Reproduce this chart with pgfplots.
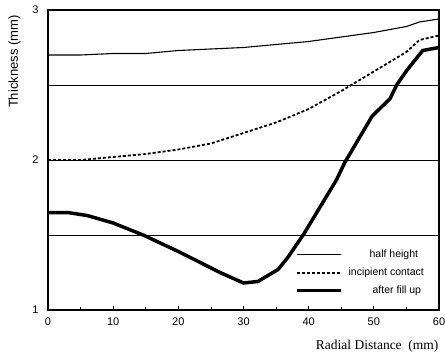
\documentclass[border=0pt]{standalone}
\usepackage{pgfplots}
\pgfplotsset{compat=1.18}
\usepackage{fontspec}
\setmainfont{Liberation Serif}
\setsansfont{Liberation Sans}
\begin{document}
\begin{tikzpicture}
\begin{axis}[
  scale only axis,
  width=391pt, height=300pt,
  xmin=0, xmax=60, ymin=1, ymax=3,
  xtick={0,10,...,60}, minor xtick={5,15,...,55},
  ytick={1,1.5,2,2.5,3}, yticklabels={1,,2,,3},
  ymajorgrids, grid style={black, line width=0.8pt},
  axis line style={line width=1.1pt},
  tick align=inside, tick pos=left,
  major tick length=4pt, minor tick length=3pt,
  tick style={black, line width=0.8pt},
  ticklabel style={font=\sffamily\fontsize{11}{12}\selectfont},
  xticklabel style={yshift=-4pt},
  yticklabel style={xshift=-6pt},
  /pgf/number format/assume math mode=true,
  xlabel={Radial Distance\ \ (mm)},
  ylabel={Thickness (mm)},
  xlabel style={font=\fontsize{13.5}{15}\selectfont, at={(rel axis cs:1,0)}, anchor=base east, yshift=-39pt, xshift=3pt},
  ylabel style={font=\sffamily\fontsize{13}{14}\selectfont, at={(rel axis cs:0,1)}, anchor=south east, yshift=24pt, xshift=-2pt},
  legend style={draw=none, fill=none, at={(rel axis cs:0.985,0.035)}, anchor=south east,
    font=\sffamily\fontsize{10.5}{12}\selectfont, row sep=5pt,
    nodes={inner xsep=6pt}},
  legend cell align=right,
  legend plot pos=left,
  legend image code/.code={\draw[#1] (0cm,0cm) -- (44pt,0cm);},
]
\addplot[black, line width=1.1pt] coordinates {
(0,2.70) (5,2.70) (10,2.71) (15,2.71) (20,2.73) (25,2.74) (30,2.75) (35,2.77) (40,2.79) (45,2.82) (50,2.85) (55,2.89) (57,2.92) (60,2.94)};
\addlegendentry{half height\ \ \ }
\addplot[black, line width=1.8pt, dash pattern=on 3pt off 2pt] coordinates {
(0,2.00) (5,2.00) (10,2.02) (15,2.04) (20,2.07) (25,2.11) (30,2.18) (35,2.25) (40,2.34) (45,2.46) (50,2.59) (55,2.72) (57,2.80) (60,2.83)};
\addlegendentry{incipient contact}
\addplot[black, line width=3.5pt] coordinates {
(0,1.65) (3,1.65) (6,1.63) (10,1.58) (14.6,1.50) (20,1.39) (26.4,1.25) (30,1.18) (32.2,1.19) (35.3,1.27) (36.8,1.35) (39.3,1.51) (44.3,1.87) (45.5,1.98) (49.7,2.29) (52.5,2.41) (53.5,2.50) (55.1,2.60) (57.5,2.73) (60,2.75)};
\addlegendentry{after fill up\ \ }
\end{axis}
\pgfresetboundingbox
\path (current axis.south west) ++(-48pt,-48pt) coordinate (a);
\path (current axis.north east) ++(6pt,10pt) coordinate (b);
\useasboundingbox (a) rectangle (b);
\end{tikzpicture}
\end{document}
